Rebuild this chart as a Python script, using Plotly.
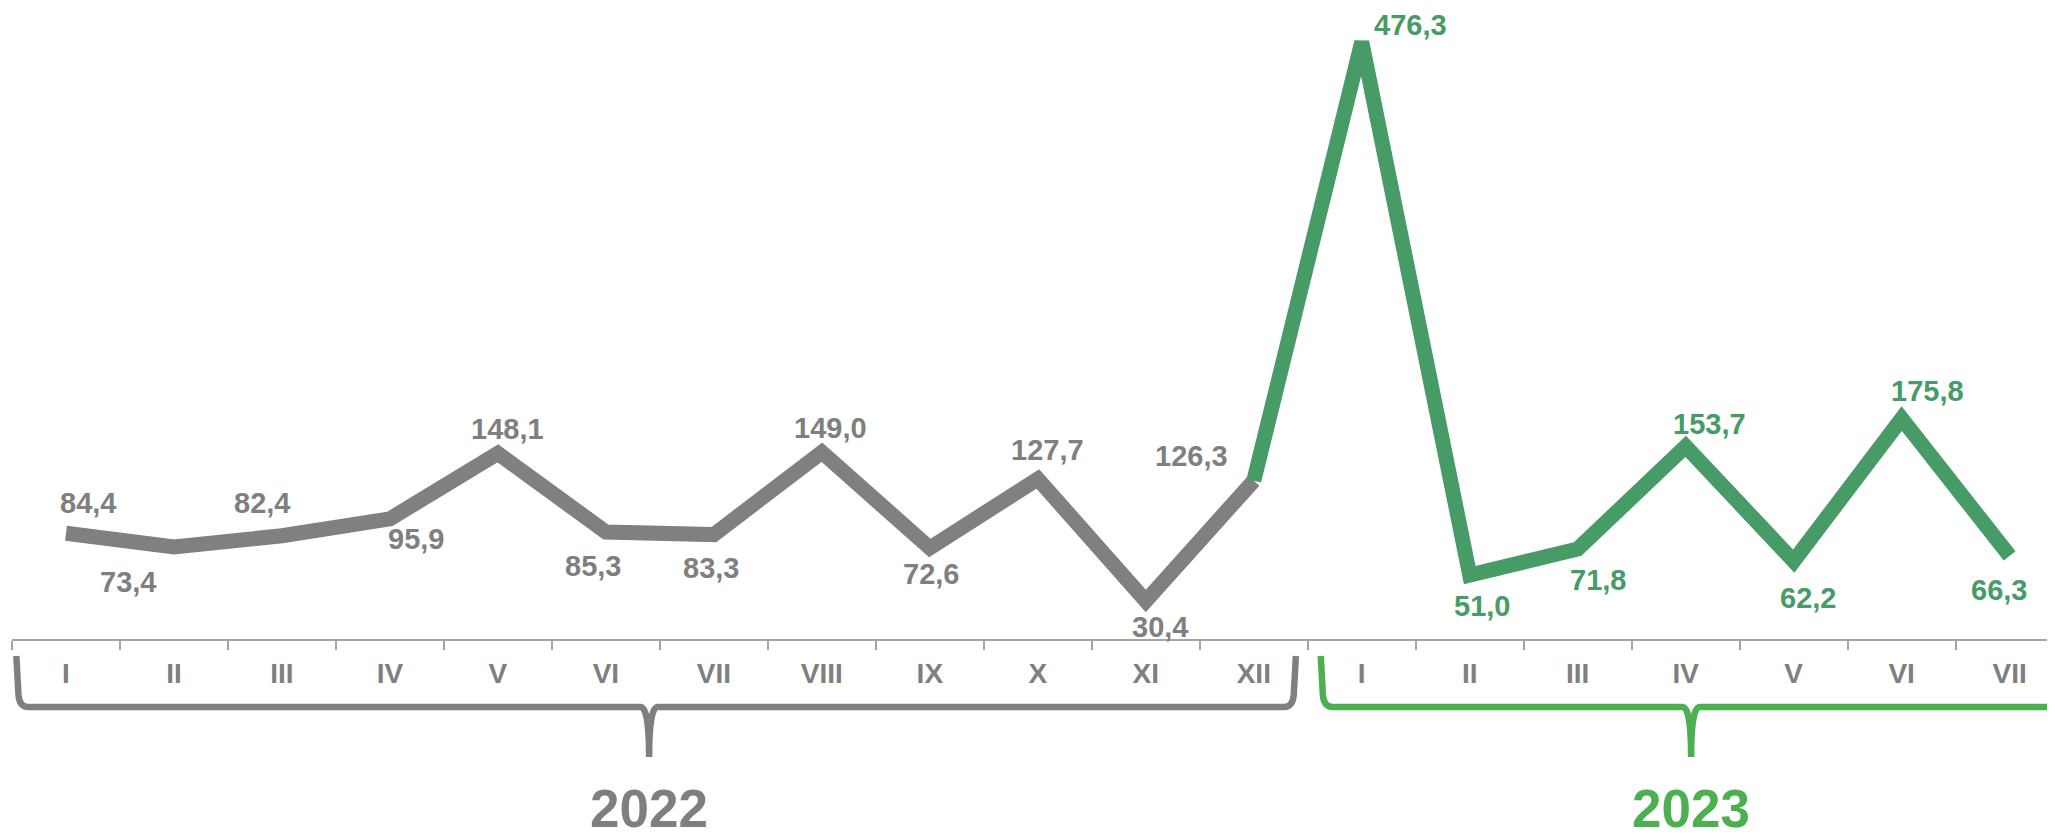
import plotly.graph_objects as go

# ---- data ----
months_2022 = ["I", "II", "III", "IV", "V", "VI", "VII", "VIII", "IX", "X", "XI", "XII"]
months_2023 = ["I", "II", "III", "IV", "V", "VI", "VII"]
values_2022 = [84.4, 73.4, 82.4, 95.9, 148.1, 85.3, 83.3, 149.0, 72.6, 127.7, 30.4, 126.3]
values_2023 = [476.3, 51.0, 71.8, 153.7, 62.2, 175.8, 66.3]
years = ["2022", "2023"]

# ---- styling ----
GRAY = "#7f7f7f"
GREEN_LINE = "#469b67"
GREEN_BRACE = "#4caf50"
FONT = "Liberation Sans, Arial, sans-serif"
# page body has an 8px default margin, so the figure is 8px smaller
W, H = 2047, 830
ML, MT, MB = 4, 0, 199
PLOT_H = H - MT - MB

# label offsets (px) for each point, style only
label_dx = [22, -46, -20, 26, 10, -13, -3, 9, 1, 10, 14, -62,
            49, 12, 20, 24, 14, 26, -11]
label_dy = [-30, 35, -33, 20, -24, 34, 33, -24, 26, -29, 26, -25,
            -17, 31, 31, -22, 37, -28, 34]

all_months = months_2022 + months_2023
all_values = values_2022 + values_2023
n = len(all_values)
xs = list(range(n))
n22 = len(values_2022)
n23 = len(values_2023)

fig = go.Figure()
fig.add_trace(go.Scatter(
    x=xs[:n22], y=values_2022, mode="lines",
    line=dict(color="#808080", width=15), hoverinfo="skip", showlegend=False))
fig.add_trace(go.Scatter(
    x=xs[n22 - 1:], y=[values_2022[-1]] + values_2023, mode="lines",
    line=dict(color=GREEN_LINE, width=15), hoverinfo="skip", showlegend=False))

for i, (x, v) in enumerate(zip(xs, all_values)):
    col = GRAY if i < n22 else GREEN_LINE
    fig.add_annotation(
        x=x, y=v, text=f"{v:.1f}".replace(".", ","), showarrow=False,
        xshift=label_dx[i], yshift=-label_dy[i],
        font=dict(family=FONT, size=29, color=col, weight="bold"))


def py(off):
    return -off / PLOT_H


def brace(x0, x1, xm, color):
    yt, yh, yb = py(17), py(68), py(118)
    yc = py(56)
    r = 0.11
    c = 0.08
    p = (f"M {x0},{yt} L {x0 + 0.02},{yc} Q {x0 + 0.03},{yh} {x0 + r},{yh} "
         f"L {xm - c},{yh} Q {xm},{yh} {xm},{yb} Q {xm},{yh} {xm + c},{yh} "
         f"L {x1 - r},{yh} Q {x1 - 0.03},{yh} {x1 - 0.02},{yc} L {x1},{yt}")
    fig.add_shape(type="path", path=p, xref="x", yref="paper",
                  line=dict(color=color, width=6.5), layer="above")


mid22 = (n22 - 1) / 2 - 0.1
mid23 = n22 + (n23 - 1) / 2 + 0.05
brace(-0.46, n22 - 0.61, mid22, GRAY)
brace(n22 - 0.38, 2 * mid23 - (n22 - 0.38), mid23, GREEN_BRACE)

fig.add_annotation(x=mid22, y=py(169), xref="x", yref="paper",
                   text=years[0], showarrow=False, yanchor="middle",
                   font=dict(family=FONT, size=53, color=GRAY, weight="bold"))
fig.add_annotation(x=mid23, y=py(169), xref="x", yref="paper",
                   text=years[1], showarrow=False, yanchor="middle",
                   font=dict(family=FONT, size=53, color=GREEN_BRACE, weight="bold"))

fig.update_layout(
    width=W, height=H,
    margin=dict(l=ML, r=0, t=MT, b=MB),
    paper_bgcolor="white", plot_bgcolor="white",
    xaxis=dict(
        range=[-0.5, 18.42], tickmode="array", tickvals=xs, ticktext=all_months,
        ticks="outside", ticklen=8, tickcolor="rgba(0,0,0,0)",
        showline=True, linecolor="#a6a6a6", linewidth=2,
        showgrid=False, zeroline=False, ticklabelstandoff=0,
        tickfont=dict(family=FONT, size=28, color=GRAY, weight="bold"),
        minor=dict(tickmode="array", tickvals=[i - 0.5 for i in range(n + 1)],
                   ticks="outside", ticklen=9, tickcolor="#a6a6a6", tickwidth=1.5),
    ),
    yaxis=dict(range=[0, 503.4], visible=False, showgrid=False, zeroline=False),
)

fig.write_html("out.html")
